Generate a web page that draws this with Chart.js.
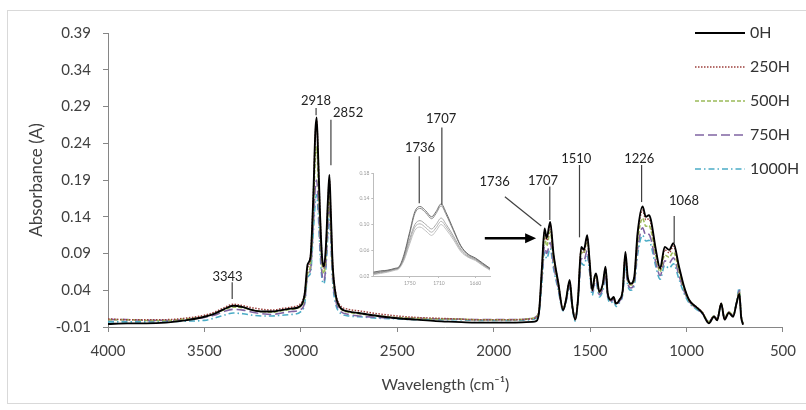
<!DOCTYPE html>
<html>
<head>
<meta charset="utf-8">
<script src="https://cdn.jsdelivr.net/npm/chart.js@4.4.1/dist/chart.umd.min.js"></script>
<style>
  body { margin: 0; background: #fff; }
  #wrap { position: relative; width: 806px; height: 410px; }
  #chart { position: absolute; left: 0; top: 0; }
  #inset { position: absolute; left: 340px; top: 110px; }
</style>
</head>
<body>
<div id="wrap">
  <canvas id="chart" width="806" height="410"></canvas>
  <canvas id="inset" width="160" height="185"></canvas>
</div>
<script>
// wavenumbers (cm-1)
const wavenumbers = [4000, 3900, 3800, 3700, 3600, 3500, 3450, 3400, 3350, 3300, 3250, 3200, 3150, 3100, 3050, 3000,
  2980, 2965, 2950, 2935, 2925, 2918, 2910, 2900, 2890, 2880, 2870, 2860, 2852, 2845, 2835, 2820, 2800, 2750, 2700,
  2600, 2500, 2400, 2300, 2200, 2100, 2000, 1900, 1800, 1780, 1765, 1750, 1736, 1725, 1707, 1690, 1665, 1640, 1625,
  1606, 1592, 1577, 1563, 1546, 1532, 1515, 1503, 1489, 1477, 1469, 1452, 1434, 1420, 1409, 1392, 1378, 1366, 1348,
  1331, 1317, 1305, 1288, 1271, 1254, 1228, 1211, 1195, 1185, 1159, 1137, 1113, 1090, 1068, 1039, 1013, 987, 953,
  918, 884, 858, 841, 820, 803, 781, 758, 741, 726, 717, 707];

const h0 = [-0.006, -0.005, -0.005, -0.004, -0.001, 0.004, 0.008, 0.014, 0.019, 0.017, 0.013, 0.011, 0.011, 0.013, 0.015, 0.019,
  0.035, 0.075, 0.085, 0.17, 0.255, 0.275, 0.22, 0.14, 0.085, 0.072, 0.10, 0.16, 0.197, 0.15, 0.075, 0.035, 0.018, 0.011, 0.009,
  0.005, 0.002, 0.0, -0.002, -0.003, -0.004, -0.004, -0.004, -0.003, -0.002, 0.01, 0.07, 0.124, 0.111, 0.133, 0.09, 0.05, 0.013, 0.027,
  0.054, 0.018, 0.0, 0.027, 0.099, 0.095, 0.115, 0.081, 0.040, 0.058, 0.063, 0.038, 0.049, 0.072, 0.036, 0.027, 0.031, 0.022, 0.027,
  0.040, 0.092, 0.058, 0.049, 0.058, 0.117, 0.154, 0.140, 0.142, 0.136, 0.095, 0.070, 0.099, 0.095, 0.104, 0.072, 0.045, 0.027, 0.018,
  0.009, -0.005, 0.004, -0.001, 0.022, 0.0, 0.009, 0.004, 0.022, 0.035, 0.004, -0.007];

const h250 = [0.001, 0.0, 0.0, 0.0, 0.002, 0.006, 0.010, 0.016, 0.021, 0.019, 0.016, 0.014, 0.013, 0.015, 0.017, 0.022,
  0.036, 0.07, 0.085, 0.17, 0.25, 0.27, 0.22, 0.14, 0.085, 0.07, 0.095, 0.155, 0.19, 0.145, 0.075, 0.037, 0.021, 0.014, 0.012,
  0.008, 0.005, 0.003, 0.002, 0.001, 0.0, 0.0, 0.0, 0.001, 0.003, 0.012, 0.068, 0.12, 0.108, 0.128, 0.088, 0.05, 0.014, 0.027,
  0.052, 0.018, 0.001, 0.028, 0.096, 0.092, 0.112, 0.08, 0.04, 0.056, 0.061, 0.038, 0.048, 0.07, 0.036, 0.027, 0.03, 0.022, 0.027,
  0.04, 0.089, 0.057, 0.048, 0.057, 0.113, 0.149, 0.136, 0.137, 0.131, 0.092, 0.068, 0.095, 0.091, 0.1, 0.07, 0.044, 0.027, 0.018,
  0.01, -0.004, 0.005, 0.0, 0.022, 0.001, 0.01, 0.005, 0.022, 0.036, 0.005, -0.006];

const h500 = [0.0, 0.0, -0.001, -0.001, 0.001, 0.004, 0.008, 0.013, 0.017, 0.016, 0.013, 0.011, 0.010, 0.012, 0.014, 0.018,
  0.03, 0.062, 0.075, 0.15, 0.22, 0.235, 0.19, 0.12, 0.075, 0.063, 0.085, 0.14, 0.17, 0.13, 0.065, 0.032, 0.017, 0.010, 0.008,
  0.005, 0.003, 0.002, 0.001, 0.001, 0.0, 0.0, 0.0, 0.002, 0.004, 0.012, 0.062, 0.112, 0.1, 0.12, 0.083, 0.047, 0.014, 0.027,
  0.05, 0.018, 0.002, 0.028, 0.092, 0.09, 0.11, 0.078, 0.04, 0.055, 0.06, 0.037, 0.047, 0.068, 0.035, 0.027, 0.03, 0.022, 0.027,
  0.039, 0.085, 0.055, 0.047, 0.055, 0.105, 0.138, 0.127, 0.128, 0.122, 0.086, 0.065, 0.088, 0.085, 0.092, 0.066, 0.042, 0.026, 0.017,
  0.01, -0.003, 0.005, 0.001, 0.022, 0.002, 0.011, 0.006, 0.023, 0.038, 0.006, -0.005];

const h750 = [0.0, 0.0, -0.001, -0.001, 0.0, 0.003, 0.006, 0.011, 0.014, 0.013, 0.010, 0.008, 0.007, 0.009, 0.011, 0.014,
  0.024, 0.06, 0.068, 0.13, 0.18, 0.19, 0.16, 0.1, 0.062, 0.053, 0.075, 0.125, 0.155, 0.118, 0.058, 0.027, 0.013, 0.007, 0.005,
  0.003, 0.002, 0.002, 0.001, 0.001, 0.0, 0.0, 0.0, 0.002, 0.004, 0.011, 0.055, 0.1, 0.09, 0.105, 0.075, 0.043, 0.013, 0.025,
  0.046, 0.017, 0.002, 0.026, 0.083, 0.08, 0.094, 0.07, 0.037, 0.05, 0.054, 0.034, 0.043, 0.062, 0.033, 0.025, 0.028, 0.02, 0.025,
  0.036, 0.078, 0.05, 0.043, 0.05, 0.095, 0.125, 0.115, 0.116, 0.11, 0.078, 0.06, 0.08, 0.077, 0.084, 0.06, 0.039, 0.025, 0.016,
  0.009, -0.003, 0.005, 0.001, 0.021, 0.002, 0.01, 0.006, 0.022, 0.04, 0.006, -0.005];

const h1000 = [-0.003, -0.003, -0.003, -0.003, -0.002, -0.001, 0.002, 0.006, 0.009, 0.008, 0.006, 0.005, 0.005, 0.006, 0.007, 0.011,
  0.022, 0.058, 0.063, 0.12, 0.16, 0.17, 0.145, 0.09, 0.055, 0.049, 0.07, 0.115, 0.145, 0.11, 0.052, 0.022, 0.01, 0.005, 0.004,
  0.002, 0.001, 0.0, 0.0, 0.0, -0.001, -0.001, -0.001, 0.0, 0.002, 0.009, 0.05, 0.092, 0.083, 0.097, 0.07, 0.04, 0.012, 0.024,
  0.044, 0.015, -0.002, 0.024, 0.077, 0.074, 0.086, 0.066, 0.033, 0.047, 0.05, 0.031, 0.04, 0.058, 0.031, 0.023, 0.026, 0.018, 0.023,
  0.034, 0.072, 0.047, 0.04, 0.047, 0.088, 0.115, 0.107, 0.108, 0.102, 0.072, 0.055, 0.074, 0.07, 0.076, 0.055, 0.036, 0.023, 0.015,
  0.008, -0.003, 0.005, 0.001, 0.02, 0.002, 0.01, 0.006, 0.024, 0.043, 0.006, -0.005];

const seriesNames = ['0H', '250H', '500H', '750H', '1000H'];
const xTicks = [4000, 3500, 3000, 2500, 2000, 1500, 1000, 500];
const yTicks = [-0.01, 0.04, 0.09, 0.14, 0.19, 0.24, 0.29, 0.34, 0.39];

// inset: zoom on the carbonyl band
const insetWavenumbers = [1800, 1790, 1780, 1770, 1765, 1758, 1750, 1743, 1736, 1728, 1720, 1714, 1707, 1700, 1690, 1680, 1670, 1660, 1650, 1640];
const inset1 = [0.026, 0.028, 0.029, 0.032, 0.034, 0.053, 0.089, 0.12, 0.128, 0.121, 0.112, 0.12, 0.132, 0.118, 0.092, 0.067, 0.054, 0.048, 0.04, 0.032];
const inset2 = [0.024, 0.026, 0.028, 0.031, 0.033, 0.05, 0.086, 0.117, 0.125, 0.118, 0.109, 0.117, 0.129, 0.115, 0.09, 0.066, 0.053, 0.047, 0.039, 0.031];
const inset3 = [0.025, 0.027, 0.029, 0.031, 0.033, 0.048, 0.078, 0.1, 0.106, 0.1, 0.093, 0.1, 0.11, 0.1, 0.082, 0.062, 0.051, 0.046, 0.038, 0.031];
const inset4 = [0.023, 0.025, 0.027, 0.03, 0.032, 0.046, 0.074, 0.096, 0.101, 0.095, 0.088, 0.095, 0.105, 0.096, 0.079, 0.06, 0.05, 0.045, 0.037, 0.03];
const inset5 = [0.022, 0.024, 0.026, 0.029, 0.031, 0.044, 0.07, 0.091, 0.096, 0.09, 0.083, 0.09, 0.1, 0.092, 0.076, 0.058, 0.049, 0.044, 0.036, 0.029];
const insetXTicks = [1750, 1710, 1660];
const insetYTicks = [0.02, 0.06, 0.10, 0.14, 0.18];

const FONT = 'Lato, "Open Sans", sans-serif';

function pts(xs, ys) {
  return xs.map((x, i) => ({ x: x, y: ys[i] }));
}

// peak labels, in data units
const notes = [
  { text: '3343', tx: 3380, ty: 0.058, line: [3356, 0.051, 3356, 0.028] },
  { text: '2918', tx: 2921, ty: 0.2975, line: [2921, 0.288, 2921, 0.278] },
  { text: '2852', tx: 2755, ty: 0.282, line: [2844, 0.272, 2844, 0.210] },
  { text: '1736', tx: 1995, ty: 0.1877, line: [1942, 0.1673, 1753, 0.1274] },
  { text: '1707', tx: 1744, ty: 0.189, line: [1709, 0.181, 1709, 0.1356] },
  { text: '1510', tx: 1572, ty: 0.2182, line: [1555, 0.2104, 1555, 0.112] },
  { text: '1226', tx: 1245, ty: 0.2195, line: [1233, 0.2104, 1233, 0.160] },
  { text: '1068', tx: 1013, ty: 0.162, line: [1064, 0.141, 1064, 0.104] }
];
const arrow = [2046, 0.1107, 1780, 0.1107];

const insetNotes = [
  { text: '1736', tx: 1736, ty: 0.219, line: [1737, 0.206, 1737, 0.133] },
  { text: '1707', tx: 1707, ty: 0.2645, line: [1706, 0.2505, 1706, 0.1306] }
];

function notesPlugin(list, arr) {
  return {
    id: 'notes',
    afterDatasetsDraw(chart) {
      const { ctx, scales: { x, y } } = chart;
      ctx.save();
      ctx.font = '13px ' + FONT;
      ctx.fillStyle = '#222';
      ctx.textAlign = 'center';
      ctx.textBaseline = 'middle';
      ctx.strokeStyle = '#404040';
      ctx.lineWidth = 1.2;
      list.forEach(n => {
        ctx.fillText(n.text, x.getPixelForValue(n.tx), y.getPixelForValue(n.ty));
        ctx.beginPath();
        ctx.moveTo(x.getPixelForValue(n.line[0]), y.getPixelForValue(n.line[1]));
        ctx.lineTo(x.getPixelForValue(n.line[2]), y.getPixelForValue(n.line[3]));
        ctx.stroke();
      });
      if (arr) {
        const x1 = x.getPixelForValue(arr[0]), y1 = y.getPixelForValue(arr[1]);
        const x2 = x.getPixelForValue(arr[2]), y2 = y.getPixelForValue(arr[3]);
        ctx.strokeStyle = '#000';
        ctx.fillStyle = '#000';
        ctx.lineWidth = 2.5;
        ctx.beginPath();
        ctx.moveTo(x1, y1);
        ctx.lineTo(x2 - 9, y2);
        ctx.stroke();
        ctx.beginPath();
        ctx.moveTo(x2, y2);
        ctx.lineTo(x2 - 11, y2 - 5);
        ctx.lineTo(x2 - 11, y2 + 5);
        ctx.closePath();
        ctx.fill();
      }
      ctx.restore();
    }
  };
}

const legendPlugin = {
  id: 'sideLegend',
  afterDraw(chart) {
    const ctx = chart.ctx;
    ctx.save();
    ctx.font = '16px ' + FONT;
    ctx.textBaseline = 'middle';
    ctx.fillStyle = '#333';
    chart.data.datasets.forEach((ds, i) => {
      const yy = 33 + i * 34;
      ctx.strokeStyle = ds.borderColor;
      ctx.lineWidth = ds.borderWidth;
      ctx.setLineDash(ds.borderDash || []);
      ctx.beginPath();
      ctx.moveTo(695, yy);
      ctx.lineTo(745, yy);
      ctx.stroke();
      ctx.setLineDash([]);
      ctx.fillText(ds.label, 750, yy);
    });
    ctx.restore();
  }
};

const framePlugin = {
  id: 'frame',
  beforeDraw(chart) {
    const ctx = chart.ctx;
    ctx.save();
    ctx.fillStyle = '#fff';
    ctx.fillRect(0, 0, chart.width, chart.height);
    ctx.strokeStyle = '#d9d9d9';
    ctx.lineWidth = 1;
    ctx.strokeRect(7.5, 10.5, 810, 393);
    ctx.restore();
  }
};

const styles = [
  { color: '#000000', dash: [], width: 1.9 },
  { color: '#9c3f3b', dash: [1.5, 1.5], width: 1.5 },
  { color: '#9bbb59', dash: [4, 2], width: 1.5 },
  { color: '#8064a2', dash: [9, 4], width: 1.6 },
  { color: '#4bacc6', dash: [6, 3, 1.5, 3], width: 1.6 }
];
const allSeries = [h0, h250, h500, h750, h1000];

new Chart(document.getElementById('chart'), {
  type: 'line',
  data: {
    datasets: allSeries.map((s, i) => ({
      label: seriesNames[i],
      data: pts(wavenumbers, s),
      borderColor: styles[i].color,
      borderDash: styles[i].dash,
      borderWidth: styles[i].width,
      pointRadius: 0,
      fill: false,
      cubicInterpolationMode: 'monotone'
    }))
  },
  options: {
    responsive: false,
    animation: false,
    layout: { padding: { top: 33, right: 20, left: 0, bottom: 0 } },
    plugins: { legend: { display: false }, tooltip: { enabled: false } },
    scales: {
      x: {
        type: 'linear', reverse: true, min: 500, max: 4000,
        afterBuildTicks: s => { s.ticks = xTicks.map(v => ({ value: v })); },
        afterFit: s => { s.height = 83; },
        grid: { drawOnChartArea: false, tickLength: 5, color: '#868686' },
        border: { color: '#868686' },
        ticks: { font: { family: FONT, size: 15 }, color: '#404040', padding: 10, maxRotation: 0, autoSkip: false, callback: v => String(v) },
        title: { display: true, text: 'Wavelength (cm\u207B\u00B9)', font: { family: FONT, size: 16 }, color: '#404040', padding: { top: 0, bottom: 16 } }
      },
      y: {
        min: -0.01, max: 0.39,
        afterBuildTicks: s => { s.ticks = yTicks.map(v => ({ value: v })); },
        afterFit: s => { s.width = 108; },
        grid: { drawOnChartArea: false, tickLength: 5, color: '#868686' },
        border: { color: '#868686' },
        ticks: { font: { family: FONT, size: 15 }, color: '#404040', padding: 12, callback: v => v.toFixed(2) },
        title: { display: true, text: 'Absorbance (A)', font: { family: FONT, size: 17 }, color: '#404040', padding: { top: 26, bottom: 0 } }
      }
    }
  },
  plugins: [framePlugin, notesPlugin(notes, arrow), legendPlugin]
});

const insetGreys = ['#6e6e6e', '#8a8a8a', '#a6a6a6', '#b4b4b4', '#c2c2c2'];
new Chart(document.getElementById('inset'), {
  type: 'line',
  data: {
    datasets: [inset1, inset2, inset3, inset4, inset5].map((s, i) => ({
      data: pts(insetWavenumbers, s),
      borderColor: insetGreys[i],
      borderWidth: 1,
      pointRadius: 0,
      cubicInterpolationMode: 'monotone'
    }))
  },
  options: {
    responsive: false,
    animation: false,
    layout: { padding: { top: 63, right: 10, left: 0, bottom: 0 } },
    plugins: { legend: { display: false }, tooltip: { enabled: false } },
    scales: {
      x: {
        type: 'linear', reverse: true, min: 1640, max: 1800,
        afterBuildTicks: s => { s.ticks = insetXTicks.map(v => ({ value: v })); },
        afterFit: s => { s.height = 19; },
        grid: { drawOnChartArea: false, tickLength: 2, color: '#bdbdbd' },
        border: { color: '#bdbdbd' },
        ticks: { font: { family: FONT, size: 5 }, color: '#9a9a9a', padding: 2, maxRotation: 0, autoSkip: false, callback: v => String(v) }
      },
      y: {
        min: 0.02, max: 0.18,
        afterBuildTicks: s => { s.ticks = insetYTicks.map(v => ({ value: v })); },
        afterFit: s => { s.width = 33.3; },
        grid: { drawOnChartArea: false, tickLength: 2, color: '#bdbdbd' },
        border: { color: '#bdbdbd' },
        ticks: { font: { family: FONT, size: 5 }, color: '#9a9a9a', padding: 2, callback: v => v.toFixed(2) }
      }
    }
  },
  plugins: [notesPlugin(insetNotes, null)]
});
</script>
</body>
</html>
